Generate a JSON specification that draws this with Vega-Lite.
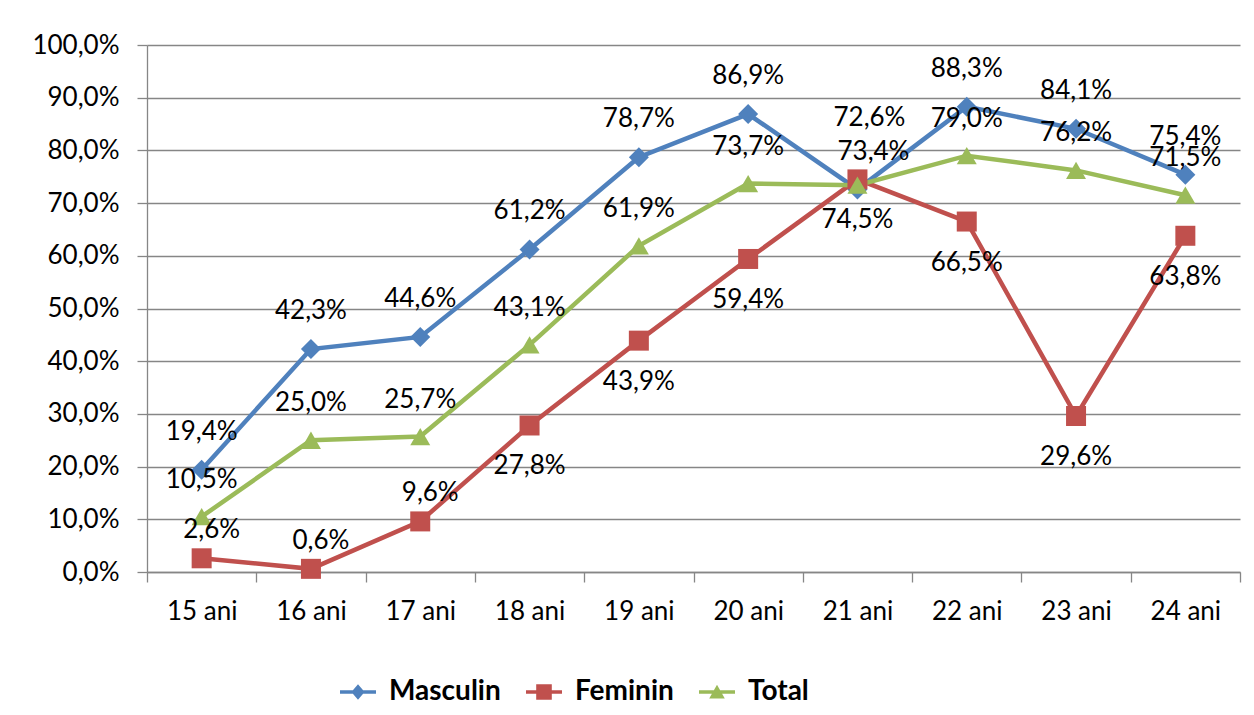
{
  "$schema": "https://vega.github.io/schema/vega-lite/v6.json",
  "autosize": "none",
  "width": 1093,
  "height": 527,
  "padding": {"left": 147, "top": 45, "right": 14, "bottom": 143},
  "background": "white",
  "config": {
    "locale": {"number": {"decimal": ",", "thousands": ".", "grouping": [3], "currency": ["", " €"]}},
    "view": {"stroke": null},
    "font": "Lato",
    "axis": {"labelFont": "Lato", "labelFontSize": 26, "labelColor": "#000000", "domainColor": "#868686", "tickColor": "#868686", "gridColor": "#868686", "domainWidth": 1.3, "tickWidth": 1.3, "gridWidth": 1.3, "tickSize": 10, "title": null, "labelOverlap": false}
  },
  "data": {"values": [
    {"varsta": "15 ani", "serie": "Masculin", "valoare": 0.194},
    {"varsta": "16 ani", "serie": "Masculin", "valoare": 0.423},
    {"varsta": "17 ani", "serie": "Masculin", "valoare": 0.446},
    {"varsta": "18 ani", "serie": "Masculin", "valoare": 0.612},
    {"varsta": "19 ani", "serie": "Masculin", "valoare": 0.787},
    {"varsta": "20 ani", "serie": "Masculin", "valoare": 0.869},
    {"varsta": "21 ani", "serie": "Masculin", "valoare": 0.726},
    {"varsta": "22 ani", "serie": "Masculin", "valoare": 0.883},
    {"varsta": "23 ani", "serie": "Masculin", "valoare": 0.841},
    {"varsta": "24 ani", "serie": "Masculin", "valoare": 0.754},
    {"varsta": "15 ani", "serie": "Feminin", "valoare": 0.026},
    {"varsta": "16 ani", "serie": "Feminin", "valoare": 0.006},
    {"varsta": "17 ani", "serie": "Feminin", "valoare": 0.096},
    {"varsta": "18 ani", "serie": "Feminin", "valoare": 0.278},
    {"varsta": "19 ani", "serie": "Feminin", "valoare": 0.439},
    {"varsta": "20 ani", "serie": "Feminin", "valoare": 0.594},
    {"varsta": "21 ani", "serie": "Feminin", "valoare": 0.745},
    {"varsta": "22 ani", "serie": "Feminin", "valoare": 0.665},
    {"varsta": "23 ani", "serie": "Feminin", "valoare": 0.296},
    {"varsta": "24 ani", "serie": "Feminin", "valoare": 0.638},
    {"varsta": "15 ani", "serie": "Total", "valoare": 0.105},
    {"varsta": "16 ani", "serie": "Total", "valoare": 0.25},
    {"varsta": "17 ani", "serie": "Total", "valoare": 0.257},
    {"varsta": "18 ani", "serie": "Total", "valoare": 0.431},
    {"varsta": "19 ani", "serie": "Total", "valoare": 0.619},
    {"varsta": "20 ani", "serie": "Total", "valoare": 0.737},
    {"varsta": "21 ani", "serie": "Total", "valoare": 0.734},
    {"varsta": "22 ani", "serie": "Total", "valoare": 0.79},
    {"varsta": "23 ani", "serie": "Total", "valoare": 0.762},
    {"varsta": "24 ani", "serie": "Total", "valoare": 0.715}
  ]},
  "encoding": {
    "x": {"field": "varsta", "type": "ordinal", "sort": null,
      "scale": {"type": "band", "paddingInner": 0, "paddingOuter": 0},
      "axis": {"tickBand": "extent", "labelAngle": 0, "labelPadding": 16, "grid": false}},
    "y": {"field": "valoare", "type": "quantitative",
      "scale": {"domain": [0, 1], "nice": false},
      "axis": {"format": ".1%", "values": [0, 0.1, 0.2, 0.3, 0.4, 0.5, 0.6, 0.7, 0.8, 0.9, 1.0], "grid": true, "labelPadding": 18}}
  },
  "layer": [
    {
      "mark": {"type": "line", "strokeWidth": 4.5},
      "encoding": {
        "color": {"field": "serie", "type": "nominal", "scale": {"domain": ["Masculin", "Feminin", "Total"], "range": ["#4F81BD", "#C0504D", "#9BBB59"]}, "legend": null}
      }
    },
    {
      "mark": {"type": "point", "filled": true, "opacity": 1, "size": 400},
      "encoding": {
        "color": {"field": "serie", "type": "nominal", "legend": null},
        "shape": {"field": "serie", "type": "nominal", "scale": {"domain": ["Masculin", "Feminin", "Total"], "range": ["diamond", "square", "triangle-up"]}, "legend": null}
      }
    },
    {
      "mark": {"type": "point", "filled": true, "opacity": 0},
      "encoding": {
        "color": {"field": "serie", "type": "nominal",
          "legend": {"orient": "none", "legendX": 197, "legendY": 633, "direction": "horizontal", "title": null,
            "labelFont": "Lato", "labelFontSize": 28, "labelFontWeight": "bold", "labelColor": "#000000",
            "symbolSize": 144, "symbolOpacity": 1, "symbolStrokeWidth": 0, "labelOffset": 17, "columnPadding": 25, "padding": 0}},
        "shape": {"field": "serie", "type": "nominal",
          "scale": {"domain": ["Masculin", "Feminin", "Total"], "range": [
            "M-3,-0.3H3V0.3H-3Z M0,-1.3L1.1,0L0,1.3L-1.1,0Z",
            "M-3,-0.3H3V0.3H-3Z M-1.3,-1.3H1.3V1.3H-1.3Z",
            "M-3,-0.3H3V0.3H-3Z M0,-1.2L1.3,1.1H-1.3Z"]},
          "legend": {"orient": "none", "legendX": 197, "legendY": 633, "direction": "horizontal", "title": null,
            "labelFont": "Lato", "labelFontSize": 28, "labelFontWeight": "bold", "labelColor": "#000000",
            "symbolSize": 144, "symbolOpacity": 1, "symbolStrokeWidth": 0, "labelOffset": 17, "columnPadding": 25, "padding": 0}}
      }
    },
    {
      "transform": [{"filter": {"and": [{"field": "serie", "equal": "Masculin"}, {"not": {"field": "varsta", "equal": "21 ani"}}]}}],
      "mark": {"type": "text", "font": "Lato", "fontSize": 26, "color": "#000000", "baseline": "middle", "dy": -38},
      "encoding": {"text": {"field": "valoare", "type": "quantitative", "format": ".1%"}}
    },
    {
      "transform": [{"filter": {"and": [{"field": "serie", "equal": "Masculin"}, {"field": "varsta", "equal": "21 ani"}]}}],
      "mark": {"type": "text", "font": "Lato", "fontSize": 26, "color": "#000000", "baseline": "middle", "dy": -71, "dx": 12},
      "encoding": {"text": {"field": "valoare", "type": "quantitative", "format": ".1%"}}
    },
    {
      "transform": [{"filter": {"and": [{"field": "serie", "equal": "Total"}, {"not": {"field": "varsta", "equal": "21 ani"}}]}}],
      "mark": {"type": "text", "font": "Lato", "fontSize": 26, "color": "#000000", "baseline": "middle", "dy": -37},
      "encoding": {"text": {"field": "valoare", "type": "quantitative", "format": ".1%"}}
    },
    {
      "transform": [{"filter": {"and": [{"field": "serie", "equal": "Total"}, {"field": "varsta", "equal": "21 ani"}]}}],
      "mark": {"type": "text", "font": "Lato", "fontSize": 26, "color": "#000000", "baseline": "middle", "dy": -33, "dx": 16},
      "encoding": {"text": {"field": "valoare", "type": "quantitative", "format": ".1%"}}
    },
    {
      "transform": [{"filter": {"and": [{"field": "serie", "equal": "Feminin"}, {"field": "varsta", "oneOf": ["15 ani", "16 ani", "17 ani"]}]}}],
      "mark": {"type": "text", "font": "Lato", "fontSize": 26, "color": "#000000", "baseline": "middle", "dy": -28, "dx": 10},
      "encoding": {"text": {"field": "valoare", "type": "quantitative", "format": ".1%"}}
    },
    {
      "transform": [{"filter": {"and": [{"field": "serie", "equal": "Feminin"}, {"not": {"field": "varsta", "oneOf": ["15 ani", "16 ani", "17 ani"]}}]}}],
      "mark": {"type": "text", "font": "Lato", "fontSize": 26, "color": "#000000", "baseline": "middle", "dy": 41},
      "encoding": {"text": {"field": "valoare", "type": "quantitative", "format": ".1%"}}
    }
  ],
  "resolve": {"scale": {"shape": "independent"}, "legend": {"color": "independent", "shape": "independent"}}
}
